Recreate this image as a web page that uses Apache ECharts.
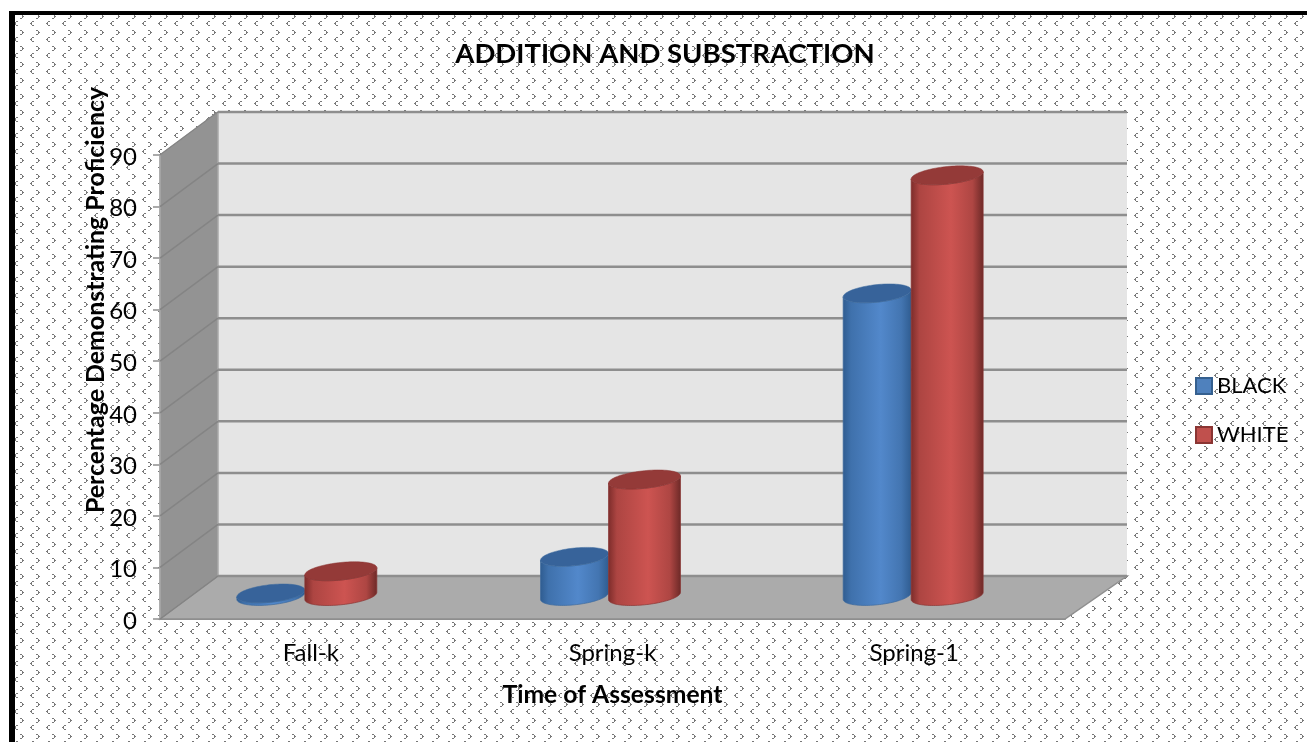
<!DOCTYPE html>
<html>
<head>
<meta charset="utf-8">
<title>Addition and Subtraction</title>
<style>
  html, body { margin: 0; padding: 0; background: #fff; }
  #chart { width: 1307px; height: 742px; }
</style>
<script src="https://cdn.jsdelivr.net/npm/echarts@6/dist/echarts.min.js"></script>
</head>
<body>
<div id="chart"></div>
<script>
// Chart content
const chartTitle = 'ADDITION AND SUBSTRACTION';
const xAxisTitle = 'Time of Assessment';
const yAxisTitle = 'Percentage Demonstrating Proficiency';
const categories = ['Fall-k', 'Spring-k', 'Spring-1'];
const blackValues = [0.5, 7.6, 58.7];
const whiteValues = [4.8, 22.6, 81.6];
const valueTicks = [0, 10, 20, 30, 40, 50, 60, 70, 80, 90];

// Box geometry of the pseudo-3D plot, in pixels from the front plane
const DEPTH_X = 58, DEPTH_Y = -43, RIGHT_OVERHANG = 4;
const BAR_DEPTH_Y = -23, TILT = 0.1, CAP_B = 8.8;
const PERSPECTIVE_SHIFT = [-2, 0, 1];
const FONT = 'Lato, "Open Sans", sans-serif';

// Dotted sheet behind the chart: alternating small chevrons on a 16px tile
function makeTile() {
  const c = document.createElement('canvas');
  c.width = c.height = 16;
  const g = c.getContext('2d');
  g.fillStyle = '#ffffff';
  g.fillRect(0, 0, 16, 16);
  g.fillStyle = '#787878';
  const dot = (x, y) => g.fillRect((x % 16 + 16) % 16, (y % 16 + 16) % 16, 1, 1);
  // right-pointing chevron
  [[4, -2], [5, -2], [6, -1], [6, 0], [7, 0], [6, 1], [4, 2], [5, 2]].forEach(p => dot(p[0], p[1]));
  // left-pointing chevron
  [[16, 5], [17, 5], [15, 6], [14, 7], [15, 7], [15, 8], [16, 9], [17, 9]].forEach(p => dot(p[0], p[1]));
  return c;
}

// Back wall, side wall and floor of the box
function renderPanels(params) {
  const r = params.coordSys;
  const l = r.x, t = r.y, b = r.y + r.height, f = r.x + r.width;
  const bx = l + DEPTH_X, rx = f + DEPTH_X + RIGHT_OVERHANG;
  return {
    type: 'group',
    children: [
      { type: 'polygon', shape: { points: [[bx, t + DEPTH_Y], [rx, t + DEPTH_Y], [rx, b + DEPTH_Y], [bx, b + DEPTH_Y]] },
        style: { fill: '#e5e5e5' } },
      { type: 'polygon', shape: { points: [[l, t], [bx, t + DEPTH_Y], [bx, b + DEPTH_Y], [l, b]] },
        style: { fill: '#939393', stroke: '#a9a9a9', lineWidth: 1.5 } },
      { type: 'polygon', shape: { points: [[l, b], [bx, b + DEPTH_Y], [rx, b + DEPTH_Y], [f, b]] },
        style: { fill: '#ababab', stroke: '#8f8f8f', lineWidth: 1.5 } }
    ]
  };
}

// One gridline per tick: slanted across the side wall, straight along the back
function renderRule(params, api) {
  const r = params.coordSys;
  const y = api.coord([0, api.value(0)])[1];
  const bx = r.x + DEPTH_X, rx = r.x + r.width + DEPTH_X + RIGHT_OVERHANG;
  return {
    type: 'group',
    children: [
      { type: 'line', shape: { x1: r.x, y1: y, x2: bx, y2: y + DEPTH_Y },
        style: { stroke: '#848484', lineWidth: 1.5 } },
      { type: 'line', shape: { x1: bx, y1: y + DEPTH_Y, x2: rx, y2: y + DEPTH_Y },
        style: { stroke: '#8e8e8e', lineWidth: 2.5 } }
    ]
  };
}

// Cylinder with a slightly tilted elliptical cap
function cylinder(palette, offset, halfWidth) {
  return function (params, api) {
    const idx = api.value(0);
    const base = api.coord([idx, 0]);
    const top = api.coord([idx, api.value(1)]);
    const cx = base[0] + offset + PERSPECTIVE_SHIFT[idx];
    const by = base[1] + BAR_DEPTH_Y;
    const ty = top[1] + BAR_DEPTH_Y;
    const edge = (yc, t) => [cx + halfWidth * Math.cos(t), yc - TILT * halfWidth * Math.cos(t) + CAP_B * Math.sin(t)];
    const body = [];
    const cap = [];
    const N = 48;
    for (let i = 0; i <= N; i++) body.push(edge(by, Math.PI * i / N));
    for (let i = N; i >= 0; i--) body.push(edge(ty, Math.PI * i / N));
    for (let i = 0; i < N * 2; i++) cap.push(edge(ty, Math.PI * i / N));
    return {
      type: 'group',
      children: [
        { type: 'polygon', shape: { points: body },
          style: {
            fill: { type: 'linear', x: 0, y: 0, x2: 1, y2: 0, colorStops: palette.stops },
            stroke: palette.edge, lineWidth: 0.7
          } },
        { type: 'polygon', shape: { points: cap },
          style: { fill: palette.cap, stroke: palette.edge, lineWidth: 0.5 } }
      ]
    };
  };
}

const bluePalette = {
  edge: '#3d6a9e', cap: '#37639a',
  stops: [
    { offset: 0, color: '#2f5c90' }, { offset: 0.12, color: '#3f71ac' },
    { offset: 0.55, color: '#5288cb' }, { offset: 0.85, color: '#4375b1' }, { offset: 1, color: '#2f5c90' }
  ]
};
const redPalette = {
  edge: '#8a3533', cap: '#943a38',
  stops: [
    { offset: 0, color: '#7c2c2a' }, { offset: 0.12, color: '#ad4542' },
    { offset: 0.55, color: '#cd5451' }, { offset: 0.85, color: '#ae4643' }, { offset: 1, color: '#6c2927' }
  ]
};

const chart = echarts.init(document.getElementById('chart'), null, { renderer: 'canvas' });

chart.setOption({
  animation: false,
  backgroundColor: { image: makeTile(), repeat: 'repeat' },
  textStyle: { fontFamily: FONT },
  title: {
    text: chartTitle,
    left: 660, top: 35, textAlign: 'center',
    textStyle: { fontFamily: FONT, fontWeight: 'bold', fontSize: 27.5, color: '#000' }
  },
  legend: {
    data: ['BLACK', 'WHITE'],
    orient: 'vertical',
    left: 1195, top: 375,
    padding: 0,
    itemWidth: 16, itemHeight: 16, itemGap: 27,
    icon: 'rect',
    textStyle: { fontFamily: FONT, fontSize: 22, color: '#000' }
  },
  grid: { left: 160, top: 155, width: 905, height: 464 },
  xAxis: {
    type: 'category',
    data: categories,
    axisTick: { show: false },
    axisLine: { lineStyle: { color: '#8f8f8f', width: 2 } },
    axisLabel: { fontFamily: FONT, fontSize: 24, color: '#000', margin: 22 },
    name: xAxisTitle,
    nameLocation: 'middle',
    nameGap: 64,
    nameTextStyle: { fontFamily: FONT, fontWeight: 'bold', fontSize: 24.7, color: '#000' }
  },
  yAxis: {
    type: 'value',
    min: 0, max: 90, interval: 10,
    splitLine: { show: false },
    axisLine: { show: true, lineStyle: { color: '#a9a9a9', width: 1.5 } },
    axisTick: { show: true, length: 7, lineStyle: { color: '#8f8f8f', width: 1.5 } },
    axisLabel: {
      margin: 23,
      formatter: v => '{n|' + v + '}',
      rich: { n: { fontFamily: FONT, fontSize: 24, color: '#000', padding: [4, 0, 0, 0] } }
    },
    name: yAxisTitle,
    nameLocation: 'middle',
    nameGap: 52,
    nameMoveOverlap: false,
    nameTextStyle: { fontFamily: FONT, fontWeight: 'bold', fontSize: 24.9, color: '#000', padding: [0, 0, 0, 174] }
  },
  graphic: [
    // white margin and heavy black rule along the top and left of the sheet
    { type: 'rect', shape: { x: 0, y: 0, width: 1307, height: 11 }, style: { fill: '#fff' } },
    { type: 'rect', shape: { x: 0, y: 0, width: 9, height: 742 }, style: { fill: '#fff' } },
    { type: 'rect', shape: { x: 9, y: 11, width: 1298, height: 4 }, style: { fill: '#000' } },
    { type: 'rect', shape: { x: 9, y: 11, width: 6, height: 731 }, style: { fill: '#000' } }
  ],
  series: [
    { type: 'custom', name: 'panels', silent: true, z: 1, clip: false,
      data: [[0]], renderItem: renderPanels },
    { type: 'custom', name: 'rules', silent: true, z: 1, clip: false,
      encode: { y: 0 }, data: valueTicks.map(v => [v]), renderItem: renderRule },
    { type: 'custom', name: 'BLACK', z: 3, clip: false,
      itemStyle: { color: '#4f81bd', borderColor: '#35608f', borderWidth: 1.5 },
      encode: { x: 0, y: 1 },
      data: categories.map((c, i) => [i, blackValues[i]]),
      renderItem: cylinder(bluePalette, -38, 34) },
    { type: 'custom', name: 'WHITE', z: 3, clip: false,
      itemStyle: { color: '#c0504d', borderColor: '#8a3533', borderWidth: 1.5 },
      encode: { x: 0, y: 1 },
      data: categories.map((c, i) => [i, whiteValues[i]]),
      renderItem: cylinder(redPalette, 32, 36) }
  ]
});
</script>
</body>
</html>
